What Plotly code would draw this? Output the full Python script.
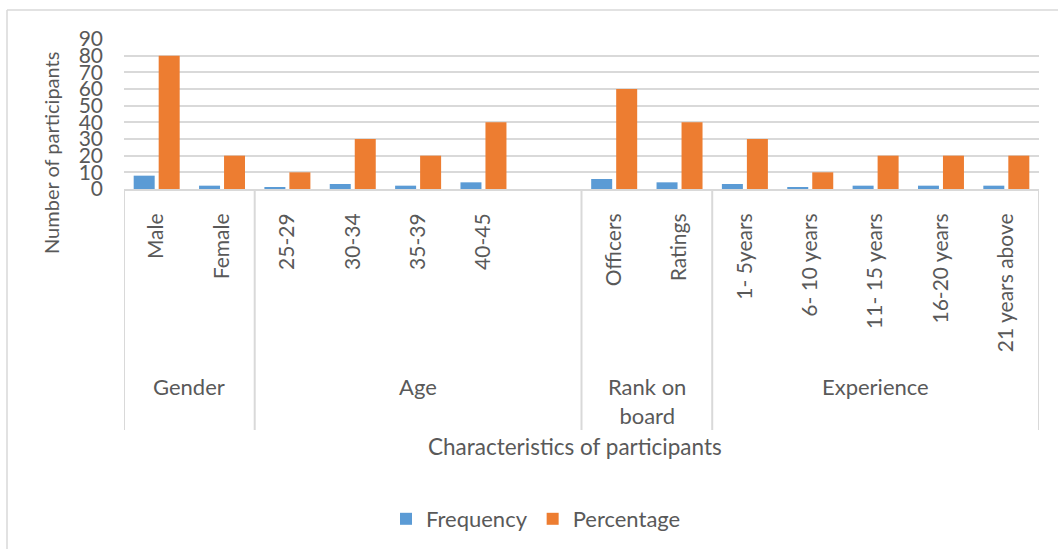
import plotly.graph_objects as go

# Inner category labels (one blank slot closes the Age group)
categories = ["Male", "Female", "25-29", "30-34", "35-39", "40-45", " ",
              "Officers", "Ratings", "1- 5years", "6- 10 years", "11- 15 years",
              "16-20 years", "21 years above"]
frequency = [8, 2, 1, 3, 2, 4, None, 6, 4, 3, 1, 2, 2, 2]
percentage = [80, 20, 10, 30, 20, 40, None, 60, 40, 30, 10, 20, 20, 20]

# Outer groups: label and number of inner slots
groups = ["Gender", "Age", "Rank on<br>board", "Experience"]
group_sizes = [2, 5, 2, 5]

y_ticks = [0, 10, 20, 30, 40, 50, 60, 70, 80, 90]

FONT = "Lato"
TEXT = "#595959"
GRID = "#d9d9d9"

W, H = 1058, 549
L, R, T, B = 124, 19, 39, 360
plot_h = H - T - B


def py(pix):
    """Convert a pixel row to paper y."""
    return (H - B - pix) / plot_h


def px(pix):
    """Convert a pixel column to paper x."""
    return (pix - L) / (W - L - R)


fig = go.Figure()
fig.add_trace(go.Bar(x=categories, y=frequency, name="Frequency",
                     marker=dict(color="#5B9BD5", line=dict(width=0))))
fig.add_trace(go.Bar(x=categories, y=percentage, name="Percentage",
                     marker=dict(color="#ED7D31", line=dict(width=0))))

shapes = []
# group dividers below the axis
edges = [-0.5]
for n in group_sizes:
    edges.append(edges[-1] + n)
for e in edges:
    shapes.append(dict(type="line", xref="x", yref="paper", x0=e, x1=e,
                       y0=0, y1=py(430), line=dict(color=GRID, width=2)))
# outer chart border (top and left)
shapes.append(dict(type="line", xref="paper", yref="paper",
                   x0=px(7), x1=px(1060), y0=py(10), y1=py(10),
                   line=dict(color=GRID, width=1.5)))
shapes.append(dict(type="line", xref="paper", yref="paper",
                   x0=px(7), x1=px(7), y0=py(10), y1=py(552),
                   line=dict(color=GRID, width=1.5)))

annotations = []
start = -0.5
for g, n in zip(groups, group_sizes):
    center = start + n / 2
    annotations.append(dict(text=g, x=center, xref="x", y=py(371), yref="paper",
                            yanchor="top", xanchor="center", showarrow=False,
                            font=dict(family=FONT, size=22, color=TEXT)))
    start += n

annotations.append(dict(text="Characteristics of participants", x=px(575), xref="paper",
                        y=py(446), yref="paper", xanchor="center", yanchor="middle",
                        showarrow=False, font=dict(family=FONT, size=22.5, color=TEXT)))
annotations.append(dict(text="Number of participants", x=px(51), xref="paper",
                        y=py(153), yref="paper", xanchor="center", yanchor="middle",
                        textangle=-90, showarrow=False,
                        font=dict(family=FONT, size=20, color=TEXT)))

fig.update_layout(
    width=W, height=H,
    margin=dict(l=L, r=R, t=T, b=B),
    paper_bgcolor="white", plot_bgcolor="white",
    barmode="group", bargap=0.235, bargroupgap=0.16,
    font=dict(family=FONT, color=TEXT),
    shapes=shapes, annotations=annotations,
    legend=dict(orientation="h", xref="container", yref="container",
                x=536 / W, xanchor="center", y=1 - 519 / H, yanchor="middle",
                font=dict(family=FONT, size=22, color=TEXT), bgcolor="rgba(0,0,0,0)",
                itemwidth=30, traceorder="normal"),
    xaxis=dict(type="category", tickangle=-90, showgrid=False, zeroline=False,
               showline=True, linecolor=GRID, linewidth=2, ticks="",
               ticklabelstandoff=14,
               tickfont=dict(family=FONT, size=21, color=TEXT),
               range=[-0.5, len(categories) - 0.5]),
    yaxis=dict(range=[0, 90], tickvals=y_ticks, showgrid=True, gridcolor=GRID,
               gridwidth=1.5, zeroline=False, showline=False, ticks="",
               ticklabelstandoff=20,
               tickfont=dict(family=FONT, size=21, color=TEXT)),
)

fig.write_html("out.html")
